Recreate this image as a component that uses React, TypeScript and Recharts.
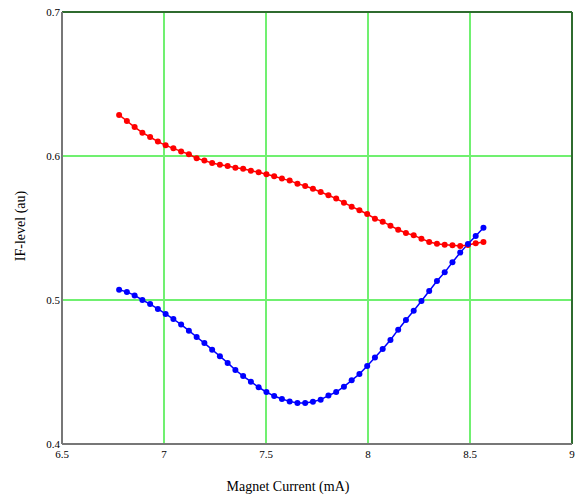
import { CartesianGrid, Label, Line, LineChart, ReferenceLine, XAxis, YAxis } from "recharts";

const current = [
  6.78, 6.818, 6.856, 6.894, 6.932, 6.97, 7.008, 7.046, 7.084, 7.122, 7.16, 7.198,
  7.236, 7.274, 7.312, 7.35, 7.388, 7.426, 7.464, 7.502, 7.54, 7.578, 7.616, 7.654,
  7.692, 7.73, 7.768, 7.806, 7.844, 7.882, 7.92, 7.958, 7.996, 8.034, 8.072, 8.11,
  8.148, 8.186, 8.224, 8.262, 8.3, 8.338, 8.376, 8.414, 8.452, 8.49, 8.528, 8.566,
];

const redLevel = [
  0.6285, 0.6243, 0.6201, 0.6162, 0.6132, 0.61, 0.6074, 0.6053, 0.6032, 0.6012, 0.5984, 0.5968,
  0.5951, 0.594, 0.5931, 0.5919, 0.5912, 0.5898, 0.5887, 0.5873, 0.5859, 0.5843, 0.5829, 0.5808,
  0.5792, 0.5773, 0.575, 0.5727, 0.5704, 0.5676, 0.5648, 0.5623, 0.5597, 0.5565, 0.5544, 0.5516,
  0.5488, 0.5465, 0.5449, 0.5426, 0.5403, 0.5391, 0.5384, 0.538, 0.5375, 0.5382, 0.5394, 0.5403,
];

const blueLevel = [
  0.5072, 0.5056, 0.5032, 0.5, 0.4972, 0.4938, 0.4903, 0.4868, 0.4829, 0.4787, 0.4743, 0.4701,
  0.4655, 0.4609, 0.4563, 0.4514, 0.4472, 0.4433, 0.4394, 0.4361, 0.4333, 0.4313, 0.4296, 0.4285,
  0.4285, 0.4294, 0.4308, 0.4336, 0.4361, 0.4398, 0.4442, 0.4486, 0.4542, 0.46, 0.466, 0.4722,
  0.4794, 0.4861, 0.4926, 0.4993, 0.5063, 0.5132, 0.5192, 0.5262, 0.5329, 0.5389, 0.5444, 0.5502,
];

const xTicks = [6.5, 7, 7.5, 8, 8.5, 9];
const yTicks = [0.4, 0.5, 0.6, 0.7];

const data = current.map((x, i) => ({ x, red: redLevel[i], blue: blueLevel[i] }));

const serif = '"Liberation Serif", "Times New Roman", serif';
const tickStyle = { fontSize: 11, fill: "#000", fontFamily: serif, style: { fontFamily: serif } };

export default function App() {
  return (
    <div
      style={{
        position: "absolute",
        left: 0,
        top: 0,
        width: 581,
        height: 498,
        background: "#fff",
        fontFamily: serif,
      }}
    >
      <LineChart
        width={581}
        height={498}
        data={data}
        margin={{ top: 12, right: 9, left: 0, bottom: 0 }}
        style={{ fontFamily: serif }}
      >
        <CartesianGrid stroke="#70f070" strokeWidth={2} />
        <XAxis
          dataKey="x"
          type="number"
          domain={[6.5, 9]}
          ticks={xTicks}
          height={54}
          tickSize={0}
          tickMargin={6}
          tick={tickStyle}
          stroke="#777"
          strokeWidth={2}
        >
          <Label
            content={() => (
              <text x={288} y={491} textAnchor="middle" fontSize={14} style={{ fontFamily: serif }} fill="#000">
                Magnet Current (mA)
              </text>
            )}
          />
        </XAxis>
        <YAxis
          type="number"
          domain={[0.4, 0.7]}
          ticks={yTicks}
          width={62}
          tickSize={0}
          tickMargin={2}
          tick={tickStyle}
          stroke="#777"
          strokeWidth={2}
        >
          <Label
            content={() => (
              <text
                x={20}
                y={226}
                transform="rotate(-90 20 226)"
                textAnchor="middle"
                dominantBaseline="central"
                fontSize={14}
                style={{ fontFamily: serif }}
                fill="#000"
              >
                IF-level (au)
              </text>
            )}
          />
        </YAxis>
        <ReferenceLine y={0.7} stroke="#2f6b2f" strokeWidth={2} />
        <ReferenceLine x={9} stroke="#2f6b2f" strokeWidth={2} />
        <Line
          dataKey="red"
          stroke="#ff0000"
          strokeWidth={1.5}
          dot={{ r: 3, fill: "#ff0000", stroke: "#ff0000", strokeWidth: 0 }}
          isAnimationActive={false}
        />
        <Line
          dataKey="blue"
          stroke="#0000ff"
          strokeWidth={1.5}
          dot={{ r: 3, fill: "#0000ff", stroke: "#0000ff", strokeWidth: 0 }}
          isAnimationActive={false}
        />
      </LineChart>
    </div>
  );
}
